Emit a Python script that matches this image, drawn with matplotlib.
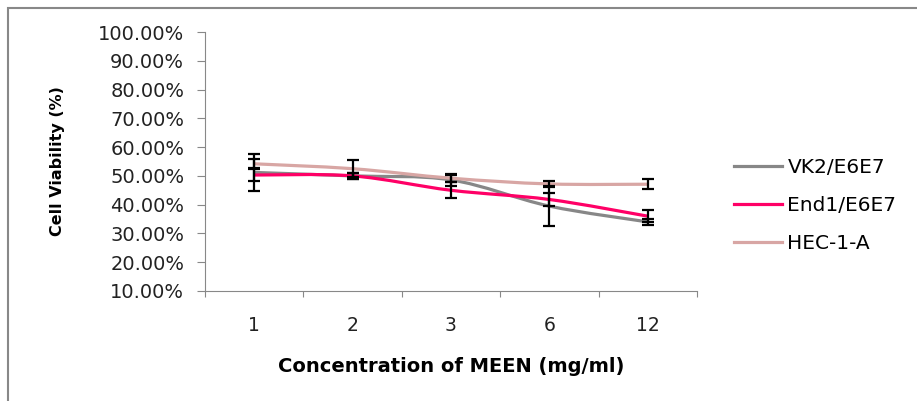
import numpy as np
import matplotlib.pyplot as plt
from matplotlib.path import Path
from matplotlib.patches import PathPatch, Rectangle
from matplotlib.lines import Line2D

plt.rcParams['font.family'] = ['DejaVu Sans']

# data
concentrations = ['1', '2', '3', '6', '12']
vk2 = [51.2, 50.0, 48.6, 39.5, 34.0]
vk2_err = [6.5, 1.0, 2.0, 7.0, 1.0]
end1 = [50.3, 50.0, 45.0, 41.8, 36.0]
end1_err = [2.0, 1.0, 2.8, 2.2, 2.0]
hec = [54.2, 52.5, 49.2, 47.2, 47.1]
hec_err = [1.5, 3.0, 1.2, 1.0, 1.7]

series = [('VK2/E6E7', vk2, vk2_err, '#878787'),
          ('End1/E6E7', end1, end1_err, '#FF0066'),
          ('HEC-1-A', hec, hec_err, '#D8A6A4')]


def smooth_path(x, y, t=1 / 6):
    # Catmull-Rom style bezier through the points (like Excel smoothed lines)
    pts = np.column_stack([x, y])
    verts = [pts[0]]
    codes = [Path.MOVETO]
    n = len(pts)
    for i in range(n - 1):
        p0 = pts[max(i - 1, 0)]
        p1 = pts[i]
        p2 = pts[i + 1]
        p3 = pts[min(i + 2, n - 1)]
        c1 = p1 + (p2 - p0) * t
        c2 = p2 - (p3 - p1) * t
        verts += [c1, c2, p2]
        codes += [Path.CURVE4] * 3
    return Path(verts, codes)


fig = plt.figure(figsize=(9.17, 4.01), dpi=100)
fig.patches.append(Rectangle((8 / 917, -0.05), 1.0, 1 - 8 / 401 + 0.05,
                             transform=fig.transFigure, fill=False,
                             edgecolor='#888888', linewidth=1.5))
ax = fig.add_axes([205 / 917, 1 - 291 / 401, 492 / 917, 259 / 401])

x = np.arange(len(concentrations))
handles = []
for name, vals, errs, col in series:
    ax.add_patch(PathPatch(smooth_path(x, vals), facecolor='none',
                           edgecolor=col, linewidth=2.3, zorder=2))
    ax.errorbar(x, vals, yerr=errs, fmt='none', ecolor='black',
                elinewidth=1.6, capsize=4, capthick=1.6, zorder=3)
    handles.append(Line2D([], [], color=col, linewidth=2.3, label=name))

ax.set_xlim(-0.5, len(concentrations) - 0.5)
ax.set_ylim(10, 100)
ax.set_yticks(np.arange(10, 101, 10))
ax.set_yticklabels([f'{v:.2f}%' for v in np.arange(10, 101, 10)],
                   fontsize=14, color='#222222')
ax.set_xticks(np.arange(-0.5, len(concentrations), 1))
ax.set_xticklabels([])
ax.set_xticks(x, minor=True)
ax.set_xticklabels(concentrations, minor=True, fontsize=13.5, color='#222222')
ax.tick_params(axis='x', which='minor', length=0, pad=18)
ax.tick_params(axis='x', which='major', length=4, color='#888888')
ax.tick_params(axis='y', length=6, color='#888888', pad=9)
for s in ['top', 'right']:
    ax.spines[s].set_visible(False)
for s in ['left', 'bottom']:
    ax.spines[s].set_color('#888888')

ax.set_xlabel('Concentration of MEEN (mg/ml)', fontsize=14,
              fontweight='bold', labelpad=16)
ax.set_ylabel('Cell Viability (%)', fontsize=11.5, fontweight='bold',
              labelpad=24)

fig.legend(handles=handles, loc='upper left',
           bbox_to_anchor=(716 / 917, 1 - 140 / 401), frameon=False,
           fontsize=14.5, handlelength=2.4, handletextpad=0.25,
           labelspacing=0.95)

fig.savefig('out.png', dpi=100)
